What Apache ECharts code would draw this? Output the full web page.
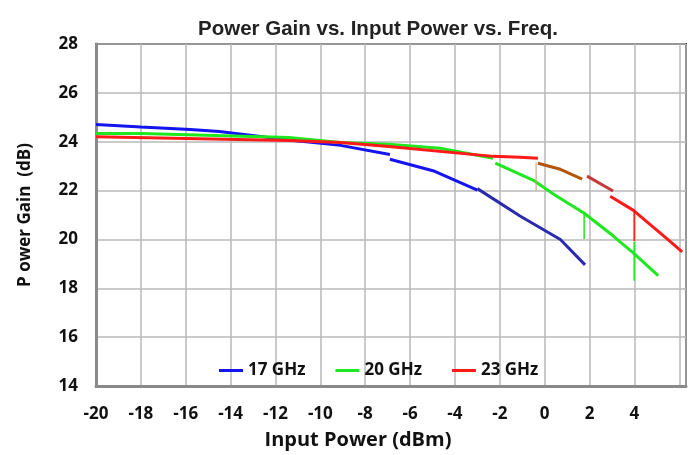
<!DOCTYPE html>
<html lang="en">
<head>
    <meta charset="UTF-8">
    <title>Power Gain vs. Input Power vs. Freq.</title>
    <script src="https://cdn.jsdelivr.net/npm/echarts@6/dist/echarts.min.js"></script>
</head>
<body style="margin:0">
    <div id="main" style="width: 689px;height:455px;"></div>
    <script>
        // x tick labels shown on the axis
        var xTicks = [-20, -18, -16, -14, -12, -10, -8, -6, -4, -2, 0, 2, 4];

        // 17 GHz (pieces of the traced curve)
        var g17a = [[-20, 24.70], [-18, 24.60], [-15.8, 24.50], [-14.5, 24.42], [-13.4, 24.30], [-11.4, 24.07], [-9.1, 23.85], [-6.9, 23.48]];
        var g17b = [[-6.9, 23.28], [-4.9, 22.79], [-3.0, 22.02]];
        var g17c = [[-3.0, 22.08], [-1.1, 20.96], [0.7, 20.00], [1.8, 18.96]];

        // 20 GHz
        var g20a = [[-20, 24.34], [-18, 24.34], [-11.4, 24.17], [-9.1, 23.97], [-6.95, 23.90], [-4.66, 23.73], [-2.3, 23.32]];
        var g20b = [[-2.2, 23.12], [-0.5, 22.42], [0.4, 21.85], [1.6, 21.16], [1.75, 21.08], [3.05, 20.15], [3.36, 19.90], [3.95, 19.45], [5.06, 18.52]];
        var g20drop1 = [[1.76, 21.12], [1.76, 20.02]];
        var g20drop2 = [[3.99, 19.90], [3.99, 18.31]];

        // 23 GHz
        var g23a = [[-20, 24.20], [-11.4, 24.05], [-9.1, 23.97], [-6.95, 23.80], [-2.3, 23.40], [-1.1, 23.36], [-0.3, 23.32]];
        var g23b = [[-0.3, 23.12], [0.7, 22.87], [1.67, 22.47]];
        var g23c = [[1.89, 22.59], [3.05, 21.98]];
        var g23d = [[2.92, 21.77], [3.94, 21.20], [5.46, 20.02], [6.13, 19.49]];
        var g23drop1 = [[3.99, 21.24], [3.99, 19.94]];
        var g23drop0 = [[-0.38, 23.16], [-0.38, 22.0]];

        var names = ['17 GHz', '20 GHz', '23 GHz'];
        var colors = ['#1414f0', '#1ee81e', '#ff1a1a'];

        function seg(name, data, color, width, opacity) {
            return {
                name: name,
                type: 'line',
                data: data,
                symbol: 'none',
                silent: true,
                z: 3,
                lineStyle: { color: color, width: width || 3, opacity: opacity == null ? 1 : opacity },
                itemStyle: { color: color }
            };
        }

        var myChart = echarts.init(document.getElementById('main'));

        var option = {
            animation: false,
            title: {
                text: 'Power Gain vs. Input Power vs. Freq.',
                left: 193,
                top: 14,
                textStyle: { fontFamily: 'Liberation Sans Narrow, Liberation Sans', fontWeight: 'bold', fontSize: 20.5, color: '#222' }
            },
            legend: {
                data: names,
                left: 214,
                top: 357,
                icon: 'rect',
                itemWidth: 24,
                itemHeight: 3,
                itemGap: 30,
                textStyle: { fontFamily: 'Open Sans', fontWeight: 'bold', fontSize: 17, color: '#111' }
            },
            grid: {
                left: 96, top: 44, width: 590, height: 344,
                show: true, borderColor: '#333', borderWidth: 2
            },
            xAxis: {
                type: 'value',
                min: -20, max: 6.3, interval: 2,
                name: 'Input Power (dBm)',
                nameLocation: 'middle',
                nameGap: 44,
                nameTextStyle: { fontFamily: 'Open Sans', fontWeight: 'bold', fontSize: 20, color: '#111', padding: [0, 66, 0, 0] },
                axisLine: { onZero: false, lineStyle: { color: '#8a8a8a', width: 3 } },
                axisTick: { show: false },
                axisLabel: {
                    margin: 20,
                    fontFamily: 'Open Sans', fontWeight: 'bold', fontSize: 17, color: '#111',
                    formatter: function (v) { return xTicks.indexOf(v) >= 0 ? v : ''; }
                },
                splitLine: { lineStyle: { color: '#b8b8b8', width: 1.5 } }
            },
            yAxis: {
                type: 'value',
                min: 14, max: 28, interval: 2,
                name: 'P ower Gain  (dB)',
                nameLocation: 'middle',
                nameGap: 62,
                nameTextStyle: { fontFamily: 'Open Sans', fontWeight: 'bold', fontSize: 17, color: '#111' },
                axisLine: { show: true, onZero: false, lineStyle: { color: '#8a8a8a', width: 3 } },
                axisTick: { show: false },
                axisLabel: { margin: 18, fontFamily: 'Open Sans', fontWeight: 'bold', fontSize: 17, color: '#111' },
                splitLine: { lineStyle: { color: '#b8b8b8', width: 1.5 } }
            },
            series: [
                seg(names[0], g17a, colors[0]),
                seg(names[0] + ' b', g17b, colors[0]),
                seg(names[0] + ' c', g17c, '#2b2bb0'),
                seg(names[1], g20a, colors[1]),
                seg(names[1] + ' b', g20b, colors[1]),
                seg(names[1] + ' d1', g20drop1, colors[1], 1.5),
                seg(names[1] + ' d2', g20drop2, colors[1], 1.5),
                seg(names[2], g23a, colors[2]),
                seg(names[2] + ' b', g23b, '#b3560a'),
                seg(names[2] + ' c', g23c, '#c43a3a'),
                seg(names[2] + ' d', g23d, colors[2]),
                seg(names[2] + ' d1', g23drop1, colors[2], 1.5),
                seg(names[2] + ' d0', g23drop0, '#c8a070', 1.5, 0.7)
            ]
        };
        myChart.setOption(option);
    </script>
</body>
</html>
